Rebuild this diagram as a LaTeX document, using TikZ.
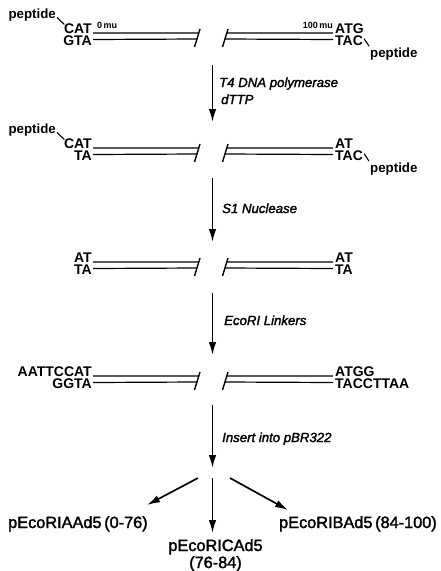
\documentclass[tikz,border=0pt]{standalone}
\usepackage{fontspec}
\setmainfont{Liberation Sans}
\newfontfamily\medsans{Liberation Sans}[FakeBold=2]
\usetikzlibrary{arrows.meta,calc}

% One duplex: left and right end sequences, two strands on each side,
% each side ending in a break mark.
% #1 name, #2 y of upper strand, #3-#6 top-left, bottom-left, top-right, bottom-right
\newcommand{\dnaduplex}[6]{%
  \node[seq,anchor=base east] (#1tl) at (92,#2) {#3};
  \node[seq,anchor=base east] (#1bl) at (92,#2+12.5) {#4};
  \node[seq,anchor=base west] (#1tr) at (335,#2) {#5};
  \node[seq,anchor=base west] (#1br) at (335,#2+12.5) {#6};
  \coordinate (#1la) at (200,#2-4);   \coordinate (#1lb) at (194.5,#2+14);
  \coordinate (#1ra) at (228,#2-4);   \coordinate (#1rb) at (222.5,#2+14);
  \draw[brk] (#1lb) -- (#1la);
  \draw[brk] (#1rb) -- (#1ra);
  \draw[strand] ($(#1tl.base east)+(1,0)$) -- ($(#1la)!4/18!(#1lb)$);
  \draw[strand] ($(#1bl.base east)+(1,-6)$) -- ($(#1la)!10/18!(#1lb)$);
  \draw[strand] ($(#1ra)!4/18!(#1rb)$) -- ($(#1tr.base west)+(-2,0)$);
  \draw[strand] ($(#1ra)!10/18!(#1rb)$) -- ($(#1br.base west)+(-2,-6)$);
}

% Peptide tails attached to both ends of a duplex
\newcommand{\peptides}[2]{%
  \node[pep,anchor=base east] (#1pl) at (56,#2-14.5) {peptide};
  \node[pep,anchor=base west] (#1pr) at (370,#2+24.5) {peptide};
  \draw[tick] ($(#1pl.base east)+(1,-1)$) -- ($(#1tl.north west)+(0.5,1.5)$);
  \draw[tick] ($(#1br.east)+(1,-2)$) -- ($(#1pr.north west)+(-1,-1.5)$);
}

\begin{document}
\begin{tikzpicture}[x=1pt,y=-1pt,
  seq/.style={inner sep=0pt,font=\fontsize{14}{15}\selectfont\bfseries},
  pep/.style={inner sep=0pt,font=\fontsize{13.3}{14}\selectfont\bfseries},
  mulab/.style={inner sep=0pt,font=\fontsize{9}{10}\selectfont\bfseries},
  lab/.style={inner sep=0pt,anchor=base west,font=\fontsize{13.2}{14}\selectfont\medsans\itshape},
  prod/.style={inner sep=0pt,font=\fontsize{16.3}{17}\selectfont\medsans},
  strand/.style={line width=1.2pt},
  brk/.style={line width=1.4pt},
  tick/.style={line width=1.1pt},
  steparrow/.style={line width=1.7pt,-{Latex[length=13pt,width=7.5pt]}},
]
\useasboundingbox (0,0) rectangle (441,571);

% the four stages of the fragment
\dnaduplex{r1}{33}{CAT}{GTA}{ATG}{TAC}
\peptides{r1}{33}
\node[mulab,anchor=base west] (mu0) at (97,28.5) {0\,mu};
\node[mulab,anchor=base east] (mu100) at (333,28.5) {100\,mu};

\dnaduplex{r2}{148}{CAT}{TA}{AT}{TAC}
\peptides{r2}{148}

\dnaduplex{r3}{262}{AT}{TA}{AT}{TA}

\dnaduplex{r4}{376}{AATTCCAT}{GGTA}{ATGG}{TACCTTAA}

% treatment steps
\coordinate (s1a) at (212.5,65);  \coordinate (s1b) at (212.5,122);
\coordinate (s2a) at (212.5,178); \coordinate (s2b) at (212.5,242);
\coordinate (s3a) at (212.5,293); \coordinate (s3b) at (212.5,355);
\coordinate (s4a) at (212.5,405); \coordinate (s4b) at (212.5,468);
\draw[steparrow] (s1a) -- (s1b);
\draw[steparrow] (s2a) -- (s2b);
\draw[steparrow] (s3a) -- (s3b);
\draw[steparrow] (s4a) -- (s4b);
\node[lab] (t4) at (219,87) {T4 DNA polymerase};
\node[lab] (dttp) at (221,104) {dTTP};
\node[lab] (s1n) at (222,213) {S1 Nuclease};
\node[lab] (eco) at (224,325) {EcoRI Linkers};
\node[lab] (ins) at (222,442) {Insert into pBR322};

% resulting clones
\node[prod,anchor=base west] (pa) at (8,528) {pEcoRIAAd5\,(0-76)};
\node[prod,anchor=base east] (pb) at (437,528) {pEcoRIBAd5\,(84-100)};
\node[prod,anchor=base] (pc) at (215.5,551) {pEcoRICAd5};
\node[prod,anchor=base] (pc2) at (215.5,568) {(76-84)};
\coordinate (fa) at (198,478);   \coordinate (ta) at (147,505);
\coordinate (fc) at (212.5,478); \coordinate (tc) at (212.5,533);
\coordinate (fb) at (230,478);   \coordinate (tb) at (288,510);
\draw[steparrow] (fa) -- (ta);
\draw[steparrow] (fc) -- (tc);
\draw[steparrow] (fb) -- (tb);
\end{tikzpicture}
\end{document}
